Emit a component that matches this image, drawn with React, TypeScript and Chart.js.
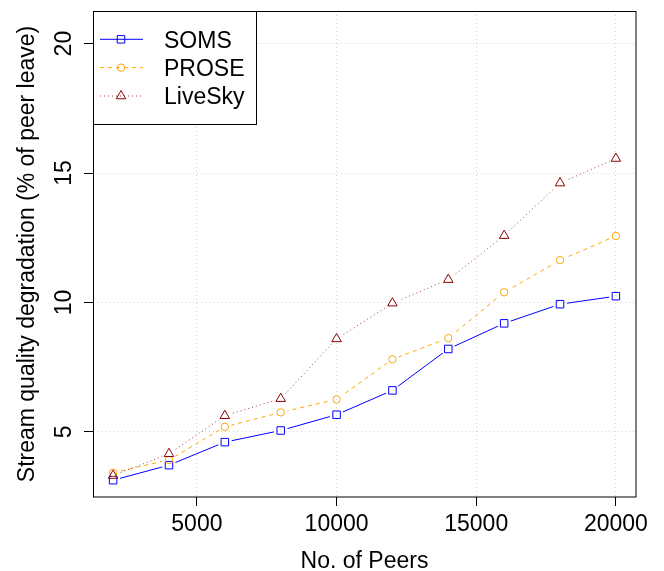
import React, { useEffect, useRef } from 'react';
import { Chart, registerables } from 'chart.js';

Chart.register(...registerables);

// ---- data ----
const peers = [2000, 4000, 6000, 8000, 10000, 12000, 14000, 16000, 18000, 20000];
const soms = [3.13, 3.71, 4.6, 5.05, 5.66, 6.6, 8.2, 9.19, 9.93, 10.24];
const prose = [3.42, 3.91, 5.19, 5.75, 6.25, 7.8, 8.62, 10.39, 11.63, 12.57];
const livesky = [3.31, 4.15, 5.62, 6.28, 8.59, 9.97, 10.88, 12.58, 14.61, 15.56];
const seriesNames = ['SOMS', 'PROSE', 'LiveSky'];
const seriesValues = [soms, prose, livesky];
const xTicks = [5000, 10000, 15000, 20000];
const yTicks = [5, 10, 15, 20];
const xTitle = 'No. of Peers';
const yTitle = 'Stream quality degradation (% of peer leave)';

// ---- styles ----
const FONT = '"Liberation Sans", Arial, Helvetica, sans-serif';
const FS = 23;
const styles: Record<string, any> = {
  SOMS: { color: '#0000FF', line: '#0000FF', dash: [], point: 'rect', radius: 5.3 },
  PROSE: { color: '#FFA500', line: '#FFA500', dash: [4, 4], point: 'circle', radius: 3.7 },
  LiveSky: { color: '#8B0000', line: 'rgba(150,30,30,0.85)', dash: [1, 3], point: 'triangle', radius: 5.5 },
};

function drawMarker(ctx: CanvasRenderingContext2D, style: string, x: number, y: number, r: number) {
  ctx.beginPath();
  if (style === 'rect') {
    const s = r * Math.SQRT1_2;
    ctx.rect(x - s, y - s, 2 * s, 2 * s);
  } else if (style === 'circle') {
    ctx.arc(x, y, r, 0, Math.PI * 2);
  } else {
    ctx.moveTo(x, y - r);
    ctx.lineTo(x + r * Math.sin((2 * Math.PI) / 3), y - r * Math.cos((2 * Math.PI) / 3));
    ctx.lineTo(x + r * Math.sin((4 * Math.PI) / 3), y - r * Math.cos((4 * Math.PI) / 3));
    ctx.closePath();
  }
  ctx.stroke();
}

// R "type = b" gaps around the points
const gapPlugin = {
  id: 'gapPlugin',
  beforeDatasetDraw(chart: any, args: any) {
    const ds = chart.data.datasets[args.index];
    if (!ds.gap) return;
    const ctx = chart.ctx;
    ctx.save();
    ctx.beginPath();
    ctx.rect(0, 0, chart.width, chart.height);
    args.meta.data.forEach((p: any) => {
      ctx.moveTo(p.x + ds.gap, p.y);
      ctx.arc(p.x, p.y, ds.gap, 0, Math.PI * 2);
    });
    ctx.clip('evenodd');
  },
  afterDatasetDraw(chart: any, args: any) {
    const ds = chart.data.datasets[args.index];
    if (!ds.gap) return;
    chart.ctx.restore();
  },
};

const framePlugin = {
  id: 'framePlugin',
  afterDraw(chart: any) {
    const ctx = chart.ctx;
    const { left, top, right, bottom } = chart.chartArea;
    ctx.save();
    ctx.strokeStyle = '#000';
    ctx.lineWidth = 1;
    ctx.setLineDash([]);
    ctx.strokeRect(left + 0.5, top + 0.5, right - left - 0.5, bottom - top - 0.5);

    // legend (R style, top-left inside plot)
    const bw = 163, bh = 113;
    ctx.fillStyle = '#fff';
    ctx.fillRect(left, top, bw, bh);
    ctx.strokeRect(left + 0.5, top + 0.5, bw, bh);
    ctx.font = `${FS}px ${FONT}`;
    ctx.textBaseline = 'alphabetic';
    ctx.textAlign = 'left';
    seriesNames.forEach((name, i) => {
      const st = styles[name];
      const y = top + 28.3 + i * 28.35;
      ctx.strokeStyle = st.line;
      ctx.lineWidth = 1;
      ctx.setLineDash(st.dash);
      ctx.beginPath();
      ctx.moveTo(left + 7, y);
      ctx.lineTo(left + 50, y);
      ctx.stroke();
      ctx.setLineDash([]);
      ctx.strokeStyle = st.color;
      drawMarker(ctx, st.point, left + 28, y, st.radius);
      ctx.fillStyle = '#000';
      ctx.fillText(name, left + 71, y + 8.3);
    });
    ctx.restore();
  },
};

export default function App() {
  const ref = useRef<HTMLCanvasElement>(null);
  useEffect(() => {
    document.body.style.margin = '0';
    const datasets: any[] = [];
    seriesNames.forEach((name, i) => {
      const st = styles[name];
      const pts = peers.map((x, j) => ({ x, y: seriesValues[i][j] }));
      datasets.push({
        label: name,
        data: pts,
        borderColor: st.line,
        borderDash: st.dash,
        borderWidth: 1,
        pointRadius: 0,
        fill: false,
        tension: 0,
        gap: 7,
        order: 10 - i * 2,
      });
      datasets.push({
        label: name + ' points',
        data: pts,
        showLine: false,
        pointStyle: st.point,
        pointRadius: st.radius,
        pointBorderColor: st.color,
        pointBackgroundColor: 'rgba(0,0,0,0)',
        pointBorderWidth: 1,
        order: 9 - i * 2,
      });
    });

    const tickFont = { family: FONT, size: FS };
    const chart = new Chart(ref.current as HTMLCanvasElement, {
      type: 'line',
      data: { datasets },
      options: {
        responsive: false,
        animation: false,
        devicePixelRatio: 1,
        events: [],
        layout: { padding: { left: 0, top: 11, right: 28, bottom: 0 } },
        plugins: { legend: { display: false }, tooltip: { enabled: false } },
        scales: {
          x: {
            type: 'linear',
            min: 1280,
            max: 20720,
            afterBuildTicks: (s: any) => {
              s.ticks = xTicks.map((v) => ({ value: v }));
            },
            afterFit: (s: any) => {
              s.height = 74;
              s.paddingLeft = 0;
              s.paddingRight = 0;
            },
            grid: {
              color: '#D3D3D3',
              lineWidth: 1,
              tickColor: '#000',
              tickLength: 9,
              tickWidth: 1,
              tickBorderDash: [],
            },
            border: { display: false, dash: [1, 3] },
            ticks: {
              autoSkip: false,
              minRotation: 0,
              maxRotation: 0,
              padding: 4.8,
              color: '#000',
              font: tickFont,
              callback: (v: any) => String(v),
            },
            title: {
              display: true,
              text: xTitle,
              color: '#000',
              font: { family: FONT, size: FS, lineHeight: 1 },
              padding: { top: 0, bottom: -2.6 },
            },
          },
          y: {
            type: 'linear',
            min: 2.48,
            max: 21.26,
            afterBuildTicks: (s: any) => {
              s.ticks = yTicks.map((v) => ({ value: v }));
            },
            afterFit: (s: any) => {
              s.width = 93;
              s.paddingTop = 0;
              s.paddingBottom = 0;
            },
            grid: {
              color: '#D3D3D3',
              lineWidth: 1,
              tickColor: '#000',
              tickLength: 9,
              tickWidth: 1,
              tickBorderDash: [],
            },
            border: { display: false, dash: [1, 3] },
            ticks: {
              autoSkip: false,
              minRotation: 90,
              maxRotation: 90,
              crossAlign: 'center',
              padding: 6.6,
              color: '#000',
              font: tickFont,
              callback: (v: any) => String(v),
            },
            title: {
              display: true,
              text: yTitle,
              color: '#000',
              font: { family: FONT, size: FS, lineHeight: 1 },
              padding: { top: 16.4, bottom: 0 },
            },
          },
        },
      } as any,
      plugins: [gapPlugin, framePlugin],
    });
    return () => chart.destroy();
  }, []);

  return (
    <div style={{ width: 664, height: 571, background: '#fff' }}>
      <canvas ref={ref} width={664} height={571} style={{ display: 'block', width: 664, height: 571 }} />
    </div>
  );
}
